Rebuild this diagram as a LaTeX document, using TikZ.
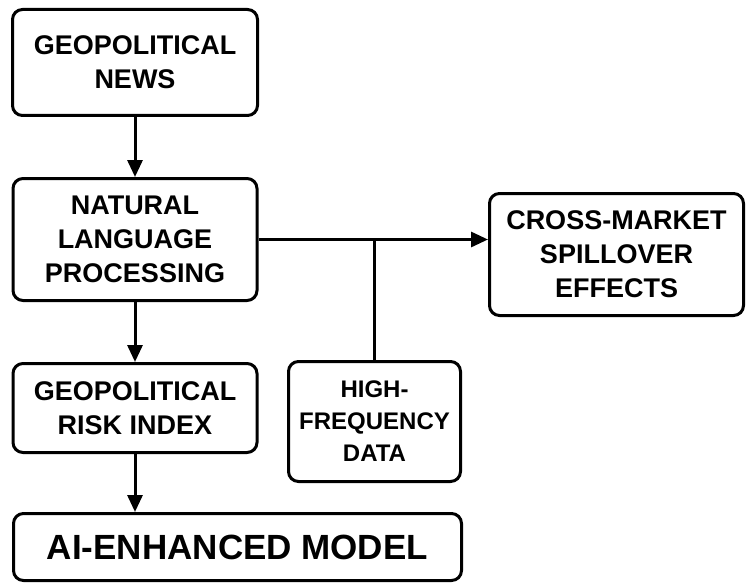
\documentclass[tikz,border=0pt]{standalone}
\usepackage{fontspec}
\setmainfont{Liberation Sans}
\usetikzlibrary{arrows.meta}

\begin{document}
\begin{tikzpicture}[x=1pt,y=-1pt,line width=3pt,>={Triangle[length=17pt,width=15pt]}]
\useasboundingbox (0,0) rectangle (746,583);
\tikzstyle{every node}=[draw,shape=rectangle,rounded corners=10pt,line width=3pt,align=center,font=\fontsize{27}{34}\selectfont\bfseries];
\node[minimum width=245pt,minimum height=106pt] (news) at (135,62.5) {GEOPOLITICAL\\NEWS};
\node[minimum width=244pt,minimum height=122pt] (nlp) at (135,239.5) {NATURAL\\LANGUAGE\\PROCESSING};
\node[minimum width=244pt,minimum height=89pt] (gri) at (135,408) {GEOPOLITICAL\\RISK INDEX};
\node[minimum width=448pt,minimum height=67pt,font=\fontsize{35}{40}\selectfont\bfseries] (model) at (237.5,547) {AI-ENHANCED MODEL};
\node[minimum width=172pt,minimum height=120pt,font=\fontsize{24}{32}\selectfont\bfseries] (hfd) at (374.5,421.5) {HIGH-\\FREQUENCY\\DATA};
\node[minimum width=254pt,minimum height=122pt] (cross) at (616.5,254.5) {CROSS-MARKET\\SPILLOVER\\EFFECTS};
\tikzstyle{every node}=[];
\draw [->] (news) -- (nlp);
\draw [->] (nlp) -- (gri);
\draw [->] (gri) -- (gri |- model.north);
\draw [->] (nlp.east) -- (nlp.east -| cross.west);
\draw (hfd.north) -- (hfd.north |- nlp.east);
\end{tikzpicture}
\end{document}
